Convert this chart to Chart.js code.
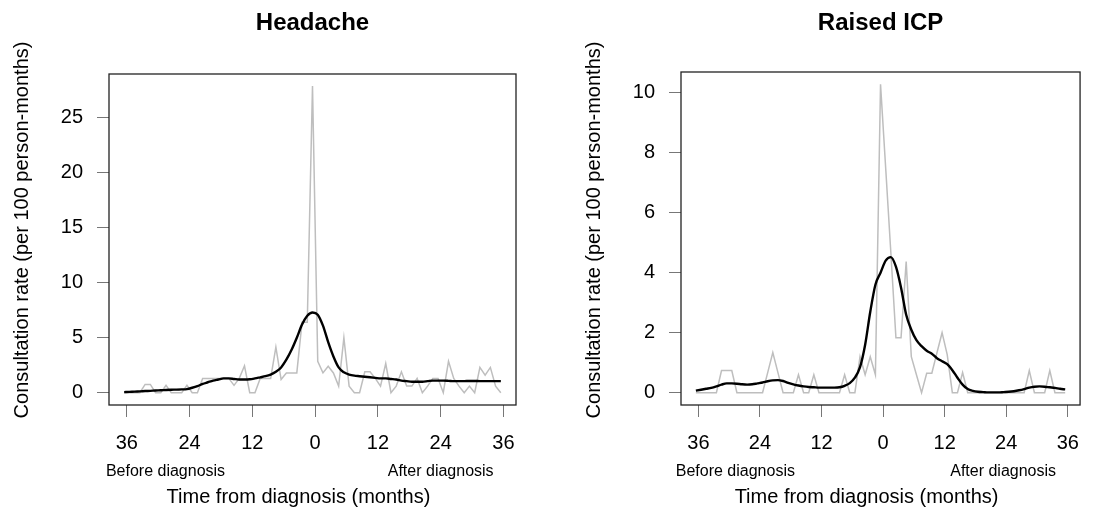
<!DOCTYPE html>
<html>
<head>
<meta charset="utf-8">
<script src="https://cdn.jsdelivr.net/npm/chart.js@4.4.1/dist/chart.umd.min.js"></script>
<style>
  html, body { margin: 0; padding: 0; background: #fff; }
  #wrap { position: relative; width: 1093px; height: 508px; }
  .panel { position: absolute; top: 0; height: 508px; }
</style>
</head>
<body>
<div id="wrap">
  <div class="panel" style="left:0;width:546px"><canvas id="headacheChart" width="546" height="508"></canvas></div>
  <div class="panel" style="left:546px;width:547px"><canvas id="icpChart" width="547" height="508"></canvas></div>
</div>
<script>
// mid-points of each month, 36 months before to 36 months after diagnosis
const months = [];
for (let m = -36; m <= 36; m++) months.push(m - 0.5);
const xTicks = [-36, -24, -12, 0, 12, 24, 36];

// Headache: monthly rate (grey) and smoothed rate (black)
const headacheRaw = [
    0, 0, 0, 0, 0.75, 0.75, 0, 0, 0.67, 0,
    0, 0, 0.67, 0, 0, 1.3, 1.3, 1.3, 1.3, 1.3,
    1.3, 0.67, 1.3, 2.45, 0, 0, 1.3, 1.3, 1.3, 4.15,
    1.2, 1.8, 1.8, 1.8, 6.4, 6.4, 27.9, 2.85, 1.8, 2.4,
    1.8, 0.6, 5.0, 0.6, 0, 0, 1.9, 1.9, 1.3, 0.6,
    2.65, 0, 0.6, 1.9, 0.6, 0.6, 1.3, 0, 0.6, 1.3,
    1.3, 0, 2.85, 1.3, 0.6, 0, 0.6, 0, 2.3, 1.6,
    2.3, 0.6, 0
];
const headacheSmooth = [
    0.05, 0.07, 0.1, 0.12, 0.15, 0.17, 0.2, 0.22, 0.25, 0.27,
    0.28, 0.3, 0.33, 0.45, 0.6, 0.8, 0.95, 1.1, 1.2, 1.3,
    1.3, 1.25, 1.2, 1.2, 1.22, 1.3, 1.4, 1.5, 1.65, 1.9,
    2.3, 3.0, 3.9, 5.0, 6.2, 7.0, 7.3, 7.1, 6.1, 4.6,
    3.3, 2.3, 1.85, 1.65, 1.55, 1.5, 1.45, 1.4, 1.35, 1.3,
    1.3, 1.25, 1.2, 1.1, 1.05, 1.0, 1.0, 1.0, 1.05, 1.1,
    1.1, 1.1, 1.08, 1.05, 1.05, 1.05, 1.07, 1.07, 1.05, 1.05,
    1.05, 1.05, 1.05
];
const headacheTicks = [0, 5, 10, 15, 20, 25];

// Raised ICP
const icpRaw = [
    0, 0, 0, 0, 0, 0.74, 0.74, 0.74, 0, 0,
    0, 0, 0, 0, 0.67, 1.34, 0.67, 0, 0, 0,
    0.6, 0, 0, 0.6, 0, 0, 0, 0, 0, 0.6,
    0, 0, 1.2, 0.6, 1.2, 0.6, 10.28, 7.5, 4.7, 1.83,
    1.83, 4.37, 1.2, 0.6, 0, 0.65, 0.65, 1.33, 2.0, 1.27,
    0, 0, 0.67, 0, 0, 0, 0, 0, 0, 0,
    0, 0, 0, 0, 0, 0.74, 0, 0, 0, 0.74,
    0, 0, 0
];
const icpSmooth = [
    0.07, 0.1, 0.13, 0.16, 0.21, 0.27, 0.31, 0.31, 0.3, 0.28,
    0.27, 0.28, 0.31, 0.34, 0.38, 0.41, 0.42, 0.39, 0.33, 0.28,
    0.24, 0.21, 0.19, 0.18, 0.17, 0.17, 0.17, 0.17, 0.18, 0.23,
    0.32, 0.5, 0.85, 1.6, 2.7, 3.6, 4.0, 4.4, 4.52, 4.2,
    3.5, 2.6, 2.1, 1.75, 1.55, 1.4, 1.3, 1.15, 1.05, 0.95,
    0.75, 0.5, 0.27, 0.12, 0.06, 0.03, 0.02, 0.01, 0.01, 0.01,
    0.02, 0.03, 0.05, 0.08, 0.12, 0.17, 0.2, 0.21, 0.2, 0.18,
    0.16, 0.13, 0.11
];
const icpTicks = [0, 2, 4, 6, 8, 10];

const FONT = '"Liberation Sans", Arial, Helvetica, sans-serif';

// box, titles and the extra axis texts
const decorPlugin = {
    id: 'decor',
    afterDraw(chart, args, opts) {
        const { ctx, chartArea: a, scales } = chart;
        ctx.save();
        ctx.strokeStyle = '#222';
        ctx.lineWidth = 1.3;
        ctx.strokeRect(a.left, a.top, a.right - a.left, a.bottom - a.top);

        ctx.fillStyle = '#000';
        ctx.textAlign = 'center';
        ctx.textBaseline = 'middle';
        ctx.font = `bold 24px ${FONT}`;
        ctx.fillText(opts.title, (a.left + a.right) / 2, 23);

        ctx.font = `20px ${FONT}`;
        ctx.fillText('Time from diagnosis (months)', (a.left + a.right) / 2 - 14, 497);

        ctx.font = `16px ${FONT}`;
        ctx.fillText('Before diagnosis', scales.x.getPixelForValue(opts.beforeAt), 472);
        ctx.fillText('After diagnosis', scales.x.getPixelForValue(opts.afterAt), 472);

        ctx.translate(a.left - 87, 230);
        ctx.rotate(-Math.PI / 2);
        ctx.font = `20px ${FONT}`;
        ctx.fillText('Consultation rate (per 100 person-months)', 0, 0);
        ctx.restore();
    }
};

function makeChart(id, raw, smooth, yTicks, area, yMin, yMax, decor) {
    const canvas = document.getElementById(id);
    const ctx = canvas.getContext('2d');
    return new Chart(ctx, {
        type: 'line',
        data: {
            datasets: [
                {
                    label: 'smoothed',
                    data: months.map((m, i) => ({ x: m, y: smooth[i] })),
                    borderColor: '#000',
                    borderWidth: 2.4,
                    pointRadius: 0,
                    cubicInterpolationMode: 'monotone',
                    order: 0
                },
                {
                    label: 'monthly',
                    data: months.map((m, i) => ({ x: m, y: raw[i] })),
                    borderColor: '#bebebe',
                    borderWidth: 1.5,
                    pointRadius: 0,
                    tension: 0,
                    order: 1
                }
            ]
        },
        options: {
            responsive: false,
            animation: false,
            layout: {
                padding: { top: area.top, right: canvas.width - area.right, left: 0, bottom: 0 }
            },
            scales: {
                x: {
                    type: 'linear',
                    min: -39.4,
                    max: 38.4,
                    afterBuildTicks: (scale) => { scale.ticks = xTicks.map(v => ({ value: v })); },
                    afterFit: (scale) => { scale.height = canvas.height - area.bottom; },
                    grid: { drawOnChartArea: false, drawTicks: true, tickLength: 12, color: '#777' },
                    border: { display: false },
                    ticks: {
                        padding: 14,
                        color: '#000',
                        font: { family: FONT, size: 20 },
                        maxRotation: 0,
                        callback: (v) => Math.abs(v)
                    }
                },
                y: {
                    min: yMin,
                    max: yMax,
                    afterBuildTicks: (scale) => { scale.ticks = yTicks.map(v => ({ value: v })); },
                    afterFit: (scale) => { scale.width = area.left; },
                    grid: { drawOnChartArea: false, drawTicks: true, tickLength: 12, color: '#777' },
                    border: { display: false },
                    ticks: {
                        padding: 14,
                        color: '#000',
                        font: { family: FONT, size: 20 }
                    }
                }
            },
            plugins: {
                legend: { display: false },
                tooltip: { enabled: false },
                decor: decor
            }
        },
        plugins: [decorPlugin]
    });
}

makeChart('headacheChart', headacheRaw, headacheSmooth, headacheTicks,
    { left: 109, right: 516, top: 74, bottom: 405 }, -1.12, 29.0,
    { title: 'Headache', beforeAt: -28.6, afterAt: 24 });

makeChart('icpChart', icpRaw, icpSmooth, icpTicks,
    { left: 135, right: 543, top: 72, bottom: 405 }, -0.41, 10.69,
    { title: 'Raised ICP', beforeAt: -28.8, afterAt: 23.4 });
</script>
</body>
</html>
